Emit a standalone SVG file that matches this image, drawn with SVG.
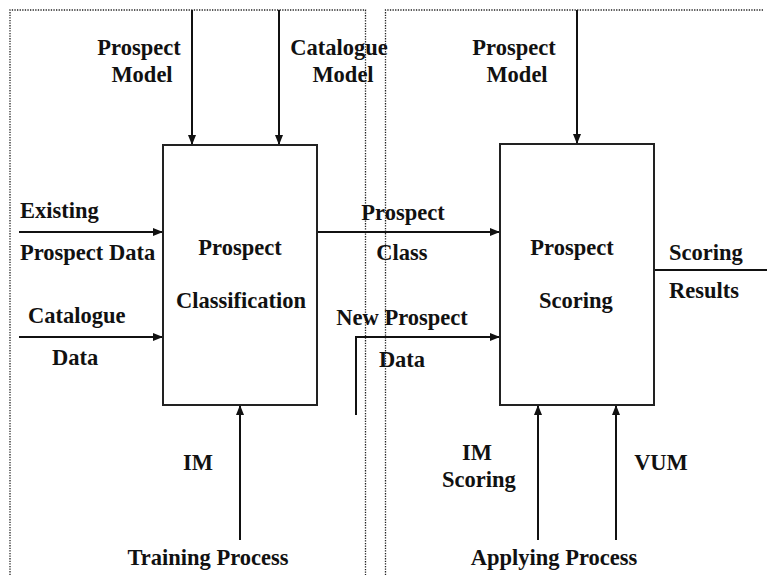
<svg xmlns="http://www.w3.org/2000/svg" width="767" height="575" viewBox="0 0 767 575">
<defs>
<marker id="ah" markerUnits="userSpaceOnUse" markerWidth="10" markerHeight="10" viewBox="0 0 10 10" refX="10" refY="5" orient="auto">
<path d="M0,1 L10,5 L0,9 Z" fill="#111"/>
</marker>
<style>
.t{font-family:"Liberation Serif","Times New Roman",serif;font-weight:bold;font-size:22.5px;fill:#111}
.m{text-anchor:middle}
.box{fill:#fff;stroke:#222;stroke-width:2}
.c{fill:none;stroke:#111;stroke-width:2}
.dot{fill:none;stroke:#222;stroke-width:1.3;stroke-dasharray:1.3 1.3}
</style>
</defs>
<rect width="767" height="575" fill="#fff"/>
<g id="frames">
<path class="dot" d="M10,575 V10 H365.5 V575"/>
<path class="dot" d="M385.5,575 V10 H764"/>
</g>
<g id="connectors">
<path class="c" d="M192,10 V145" marker-end="url(#ah)"/>
<path class="c" d="M279,10 V145" marker-end="url(#ah)"/>
<path class="c" d="M577,10 V144" marker-end="url(#ah)"/>
<path class="c" d="M19,232 H163" marker-end="url(#ah)"/>
<path class="c" d="M19,337 H163" marker-end="url(#ah)"/>
<path class="c" d="M317,232 H500" marker-end="url(#ah)"/>
<path class="c" d="M356,415 V337 H500" marker-end="url(#ah)"/>
<path class="c" d="M654,270 H767"/>
<path class="c" d="M240,540 V405" marker-end="url(#ah)"/>
<path class="c" d="M538,540 V405" marker-end="url(#ah)"/>
<path class="c" d="M616,540 V405" marker-end="url(#ah)"/>
</g>
<g id="prospect-classification">
<rect class="box" x="163" y="145" width="154" height="260"/>
<text class="t m" x="240" y="255">Prospect</text>
<text class="t m" x="241" y="308">Classification</text>
</g>
<g id="prospect-scoring">
<rect class="box" x="500" y="144" width="154" height="261"/>
<text class="t m" x="572" y="255">Prospect</text>
<text class="t m" x="576" y="308">Scoring</text>
</g>
<g id="labels">
<text class="t m" x="139" y="55">Prospect</text>
<text class="t m" x="142" y="82">Model</text>
<text class="t m" x="339" y="55">Catalogue</text>
<text class="t m" x="343" y="82">Model</text>
<text class="t m" x="514" y="55">Prospect</text>
<text class="t m" x="517" y="82">Model</text>
<text class="t" x="20" y="218">Existing</text>
<text class="t" x="20" y="260">Prospect Data</text>
<text class="t" x="28" y="323">Catalogue</text>
<text class="t" x="52" y="365">Data</text>
<text class="t m" x="403" y="220">Prospect</text>
<text class="t m" x="402" y="260">Class</text>
<text class="t m" x="402" y="325">New Prospect</text>
<text class="t m" x="402" y="367">Data</text>
<text class="t" x="669" y="260">Scoring</text>
<text class="t" x="669" y="298">Results</text>
<text class="t m" x="198" y="470">IM</text>
<text class="t m" x="208" y="565">Training Process</text>
<text class="t m" x="477" y="460">IM</text>
<text class="t m" x="479" y="487">Scoring</text>
<text class="t m" x="661" y="470">VUM</text>
<text class="t m" x="554" y="565">Applying Process</text>
</g>
</svg>
